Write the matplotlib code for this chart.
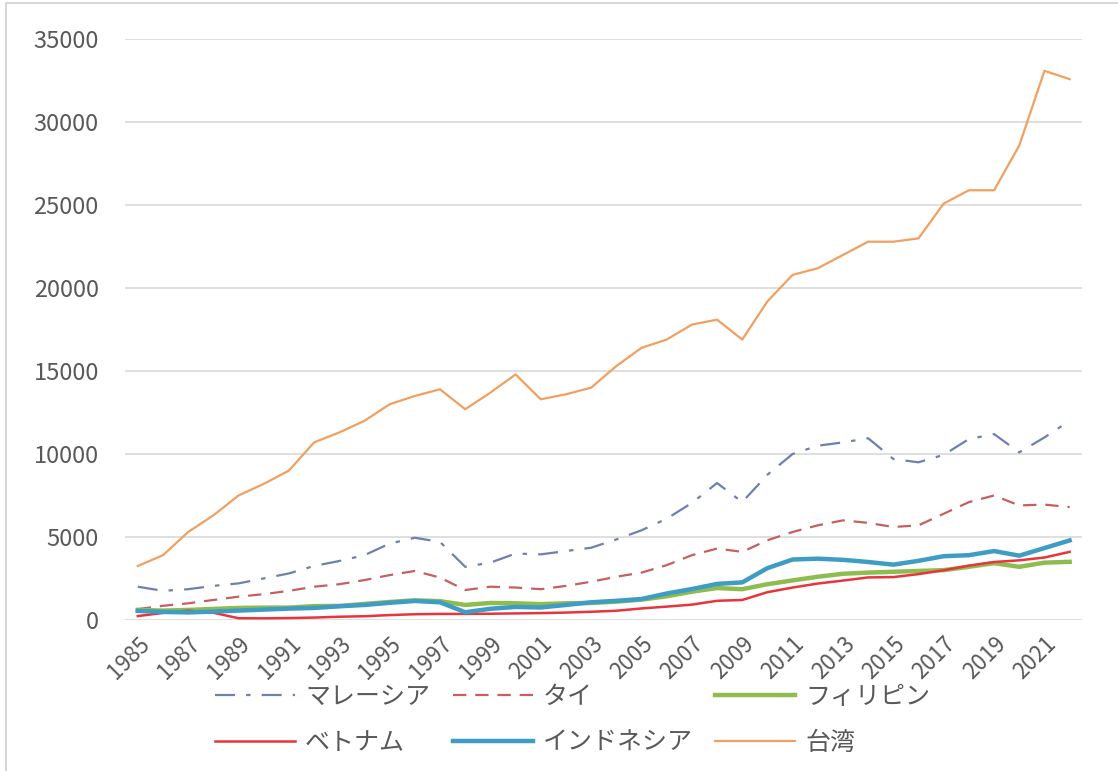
import numpy as np
import matplotlib
matplotlib.use('Agg')
from matplotlib import pyplot as plt
from matplotlib.patches import Rectangle

plt.rcParams['font.family'] = ['Noto Sans CJK JP', 'DejaVu Sans']

years = list(range(1985, 2023))

malaysia = [2000, 1750, 1850, 2050, 2200, 2500, 2800, 3250, 3550, 3900,
            4600, 4950, 4700, 3200, 3450, 4000, 3950, 4150, 4350, 4850,
            5400, 6100, 7050, 8250, 7100, 8750, 10000, 10500, 10700, 10950,
            9700, 9500, 9950, 10900, 11200, 10100, 11000, 12000]
thai = [650, 850, 1000, 1200, 1400, 1550, 1750, 2000, 2150, 2400,
        2700, 2950, 2550, 1800, 2000, 1950, 1850, 2050, 2300, 2600,
        2850, 3300, 3900, 4300, 4100, 4800, 5300, 5700, 6000, 5850,
        5600, 5700, 6400, 7100, 7500, 6900, 6950, 6800]
philippines = [600, 560, 600, 660, 720, 740, 740, 830, 840, 960,
               1080, 1180, 1130, 900, 1020, 1000, 950, 1000, 1020, 1100,
               1220, 1420, 1700, 1920, 1850, 2150, 2380, 2600, 2780, 2850,
               2900, 2950, 3000, 3200, 3420, 3200, 3450, 3500]
vietnam = [230, 420, 560, 430, 100, 95, 110, 140, 190, 220,
           290, 340, 360, 360, 370, 390, 410, 440, 490, 550,
           690, 800, 920, 1150, 1200, 1670, 1950, 2190, 2370, 2560,
           2580, 2760, 2990, 3270, 3490, 3590, 3760, 4100]
indonesia = [540, 480, 450, 500, 560, 620, 680, 720, 820, 900,
             1030, 1140, 1060, 460, 670, 780, 750, 900, 1060, 1150,
             1260, 1590, 1860, 2170, 2260, 3120, 3640, 3690, 3620, 3490,
             3330, 3560, 3840, 3900, 4150, 3870, 4330, 4790]
taiwan = [3250, 3900, 5300, 6300, 7500, 8200, 9000, 10700, 11300, 12000,
          13000, 13500, 13900, 12700, 13700, 14800, 13300, 13600, 14000, 15300,
          16400, 16900, 17800, 18100, 16900, 19200, 20800, 21200, 22000, 22800,
          22800, 23000, 25100, 25900, 25900, 28600, 33100, 32600]

text_color = '#595959'
grid_color = '#d9d9d9'

fig = plt.figure(figsize=(11.18, 7.71), dpi=100)
ax = fig.add_axes([0.112, 0.196, 0.856, 0.753])

# outer chart frame
fig.patches.append(Rectangle((0.005, -0.05), 1.2, 1.046, transform=fig.transFigure,
                             fill=False, edgecolor='#d0d0d0', linewidth=1.2))

x = np.arange(len(years))
l_mal, = ax.plot(x, malaysia, color='#6f80b0', linewidth=1.6, dashes=(9, 5, 2, 5), label='マレーシア')
l_thai, = ax.plot(x, thai, color='#c46060', linewidth=1.6, dashes=(6, 4), label='タイ')
l_phi, = ax.plot(x, philippines, color='#8fbc4f', linewidth=3.2, label='フィリピン')
l_vie, = ax.plot(x, vietnam, color='#e8343c', linewidth=1.8, label='ベトナム')
l_ind, = ax.plot(x, indonesia, color='#3f9cc4', linewidth=3.2, label='インドネシア')
l_tw, = ax.plot(x, taiwan, color='#f0a060', linewidth=1.6, label='台湾')

ax.set_xlim(-0.5, len(years) - 0.5)
ax.set_ylim(0, 35000)
ax.set_yticks(np.arange(0, 35001, 5000))
ax.set_xticks(x[::2])
ax.set_xticklabels([str(y) for y in years[::2]], rotation=45, ha='right', va='top',
                   rotation_mode='anchor')
ax.tick_params(axis='y', length=0, colors=text_color, labelsize=17, pad=19)
ax.tick_params(axis='x', length=0, colors=text_color, labelsize=16, pad=9)
ax.grid(axis='y', color=grid_color, linewidth=1.2)
ax.set_axisbelow(True)
for s in ax.spines.values():
    s.set_visible(False)

# legend filled row by row: 3 columns, 2 rows
handles = [l_mal, l_vie, l_thai, l_ind, l_phi, l_tw]
fig.legend(handles=handles, labels=[h.get_label() for h in handles],
           loc='upper left', bbox_to_anchor=(215 / 1118, 1 - 684 / 771), ncol=3,
           frameon=False, fontsize=18, handlelength=3.2, handletextpad=0.4,
           columnspacing=0.9, labelspacing=0.8, borderpad=0, borderaxespad=0,
           labelcolor=text_color)

fig.savefig('out.png', dpi=100)
